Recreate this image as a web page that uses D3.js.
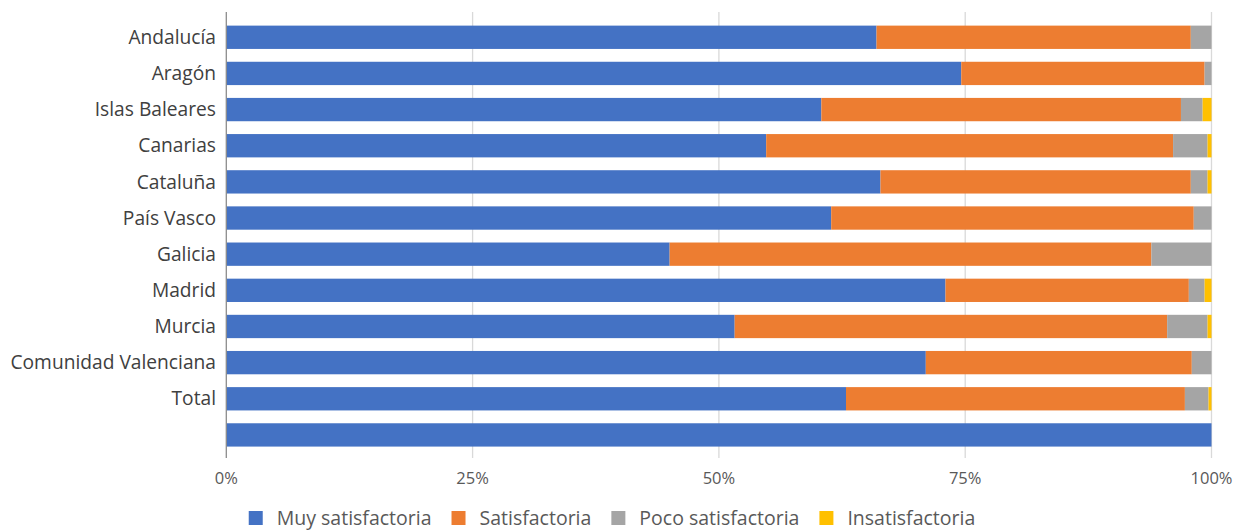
<!DOCTYPE html>
<html><head><meta charset="utf-8">
<script src="https://cdn.jsdelivr.net/npm/d3@7"></script>
<style>html,body{margin:0;padding:0;background:#fff;overflow:hidden}</style>
</head><body><svg id="c" width="1234" height="530"></svg>
<script>
const categories = ["Andalucía","Aragón","Islas Baleares","Canarias","Cataluña","País Vasco","Galicia","Madrid","Murcia","Comunidad Valenciana","Total",""];
const seriesNames = ["Muy satisfactoria","Satisfactoria","Poco satisfactoria","Insatisfactoria"];
const muySatisfactoria = [66.0,74.6,60.4,54.8,66.4,61.4,45.0,73.0,51.6,71.0,62.9,100];
const satisfactoria    = [31.9,24.7,36.5,41.3,31.5,36.8,48.9,24.7,43.9,27.0,34.4,0];
const pocoSatisfactoria= [2.1,0.7,2.2,3.5,1.7,1.8,6.1,1.6,4.1,2.0,2.4,0];
const insatisfactoria  = [0,0,0.9,0.4,0.4,0,0,0.7,0.4,0,0.3,0];
const tickValues = [0,25,50,75,100];
const colors = ["#4472C4","#ED7D31","#A5A5A5","#FFC000"];

const svg = d3.select("#c");
const font = "'Open Sans', sans-serif";
const x = d3.scaleLinear().domain([0,100]).range([226.3,1211.5]);
const y = d3.scaleBand().domain(d3.range(categories.length)).range([19.2,453]).paddingInner(0.355).paddingOuter(0.1775);

const rows = categories.map((c,i)=>({c, vals:[muySatisfactoria[i],satisfactoria[i],pocoSatisfactoria[i],insatisfactoria[i]]}));
const stackData = rows.map((r,i)=>{const o={i}; seriesNames.forEach((s,k)=>o[s]=r.vals[k]); return o;});
const stacked = d3.stack().keys(seriesNames)(stackData);

// gridlines
svg.append("g").selectAll("line").data(tickValues.slice(1)).join("line")
  .attr("x1",d=>x(d)).attr("x2",d=>x(d)).attr("y1",12).attr("y2",458)
  .attr("stroke","#d9d9d9").attr("stroke-width",1.3);

// bars
svg.append("g").selectAll("g").data(stacked).join("g")
  .attr("fill",(d,k)=>colors[k])
  .selectAll("rect").data(d=>d).join("rect")
  .attr("x",d=>x(d[0])).attr("width",d=>Math.max(0,x(d[1])-x(d[0])))
  .attr("y",d=>y(d.data.i)).attr("height",y.bandwidth());

// left axis line
svg.append("line").attr("x1",x(0)).attr("x2",x(0)).attr("y1",12).attr("y2",458)
  .attr("stroke","#8c8c8c").attr("stroke-width",1.3);

// category labels
svg.append("g").selectAll("text").data(categories).join("text")
  .attr("x",216).attr("y",(d,i)=>y(i)+y.bandwidth()/2).attr("dy","0.35em")
  .attr("text-anchor","end").attr("font-family",font).attr("font-size",19.2)
  .attr("fill","#404040").text(d=>d);

// x tick labels
svg.append("g").selectAll("text").data(tickValues).join("text")
  .attr("x",d=>x(d)).attr("y",478).attr("dy","0.35em")
  .attr("text-anchor","middle").attr("font-family",font).attr("font-size",16.5)
  .attr("fill","#595959").text(d=>d+"%");

// legend
const lg = svg.append("g");
let cx = 0;
seriesNames.forEach((s,k)=>{
  const g = lg.append("g").attr("transform",`translate(${cx},0)`);
  g.append("rect").attr("x",0).attr("y",-7).attr("width",14).attr("height",14).attr("fill",colors[k]);
  const t = g.append("text").attr("x",28).attr("y",0).attr("dy","0.35em")
    .attr("font-family",font).attr("font-size",19.5).attr("fill","#595959").text(s);
  cx += 28 + t.node().getComputedTextLength() + 20;
});
const totalW = cx - 20;
lg.attr("transform",`translate(${612 - totalW/2},518)`);
</script></body></html>
